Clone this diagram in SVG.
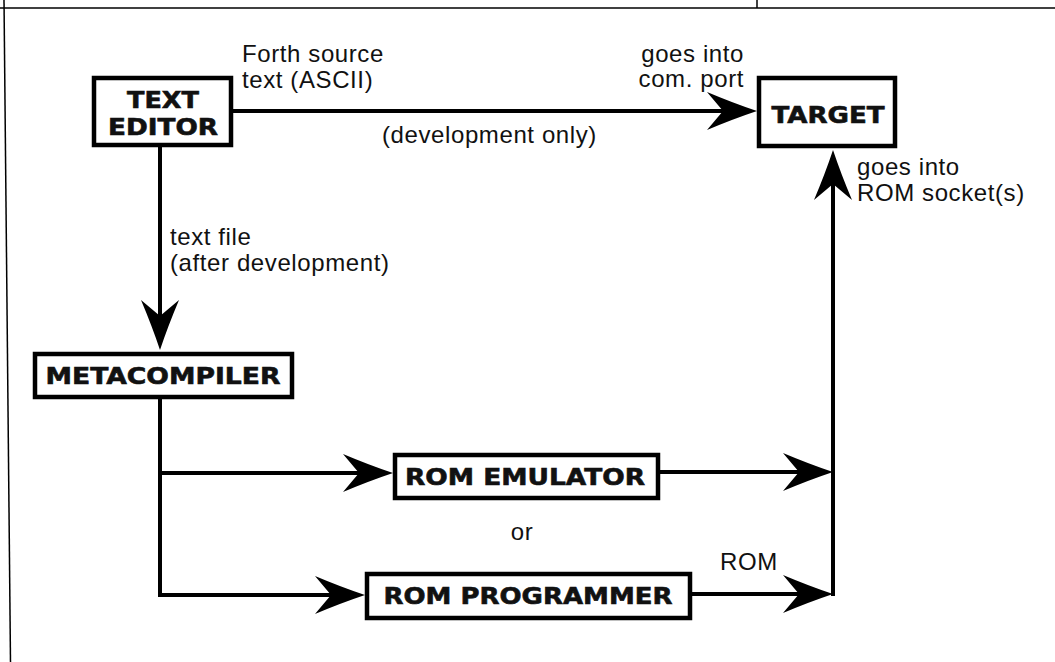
<svg xmlns="http://www.w3.org/2000/svg" width="1055" height="662" viewBox="0 0 1055 662">
<style>
.box{fill:#fff;stroke:#000;stroke-width:4.5}
.lbl{font-family:"DejaVu Sans","Liberation Sans",sans-serif;font-weight:bold;font-size:23px;fill:#111;stroke:#111;stroke-width:0.6}
.txt{font-family:"Liberation Sans",Arial,sans-serif;font-size:24px;letter-spacing:0.6px;fill:#111}
.con{fill:none;stroke:#000;stroke-width:4}
.frame{fill:none;stroke:#000;stroke-width:1.5}
</style>
<defs>
<marker id="ah" markerUnits="userSpaceOnUse" markerWidth="50" markerHeight="38" viewBox="0 0 50 38" refX="20" refY="19" orient="auto">
<path d="M0,0 Q26,11 50,19 Q26,27 0,38 L16,19 Z" fill="#000"/>
</marker>
</defs>
<rect width="1055" height="662" fill="#fff"/>
<g id="frame">
<line class="frame" x1="0" y1="8" x2="1055" y2="8"/>
<line class="frame" x1="757" y1="0" x2="757" y2="8"/>
<line class="frame" x1="4" y1="0" x2="10.5" y2="662"/>
</g>
<g id="connectors">
<line class="con" x1="233" y1="111" x2="727" y2="111" marker-end="url(#ah)"/>
<line class="con" x1="160" y1="147" x2="160" y2="320" marker-end="url(#ah)"/>
<path class="con" d="M160,399 L160,595 L335,595" marker-end="url(#ah)"/>
<line class="con" x1="160" y1="473" x2="363" y2="473" marker-end="url(#ah)"/>
<line class="con" x1="660" y1="472" x2="803" y2="472" marker-end="url(#ah)"/>
<line class="con" x1="692" y1="594" x2="803" y2="594" marker-end="url(#ah)"/>
<line class="con" x1="833" y1="596" x2="833" y2="180" marker-end="url(#ah)"/>
</g>
<g id="text-editor">
<rect class="box" x="94" y="78" width="137" height="67"/>
<text class="lbl" x="163" y="108" text-anchor="middle" textLength="72" lengthAdjust="spacingAndGlyphs">TEXT</text>
<text class="lbl" x="163" y="135" text-anchor="middle" textLength="110" lengthAdjust="spacingAndGlyphs">EDITOR</text>
</g>
<g id="target">
<rect class="box" x="759" y="78" width="136" height="68"/>
<text class="lbl" x="828" y="123" text-anchor="middle" textLength="113" lengthAdjust="spacingAndGlyphs">TARGET</text>
</g>
<g id="metacompiler">
<rect class="box" x="35" y="354" width="257" height="43"/>
<text class="lbl" x="163" y="384" text-anchor="middle" textLength="235" lengthAdjust="spacingAndGlyphs">METACOMPILER</text>
</g>
<g id="rom-emulator">
<rect class="box" x="395" y="455" width="263" height="43"/>
<text class="lbl" x="525" y="485" text-anchor="middle" textLength="240" lengthAdjust="spacingAndGlyphs">ROM EMULATOR</text>
</g>
<g id="rom-programmer">
<rect class="box" x="367" y="574" width="323" height="44"/>
<text class="lbl" x="528" y="604" text-anchor="middle" textLength="289" lengthAdjust="spacingAndGlyphs">ROM PROGRAMMER</text>
</g>
<g id="labels">
<text class="txt" x="242" y="62">Forth source</text>
<text class="txt" x="242" y="88">text (ASCII)</text>
<text class="txt" x="744" y="62" text-anchor="end">goes into</text>
<text class="txt" x="744" y="87" text-anchor="end">com. port</text>
<text class="txt" x="382" y="143">(development only)</text>
<text class="txt" x="170" y="245">text file</text>
<text class="txt" x="170" y="271">(after development)</text>
<text class="txt" x="857" y="175">goes into</text>
<text class="txt" x="857" y="201">ROM socket(s)</text>
<text class="txt" x="522" y="540" text-anchor="middle">or</text>
<text class="txt" x="720" y="570">ROM</text>
</g>
</svg>
